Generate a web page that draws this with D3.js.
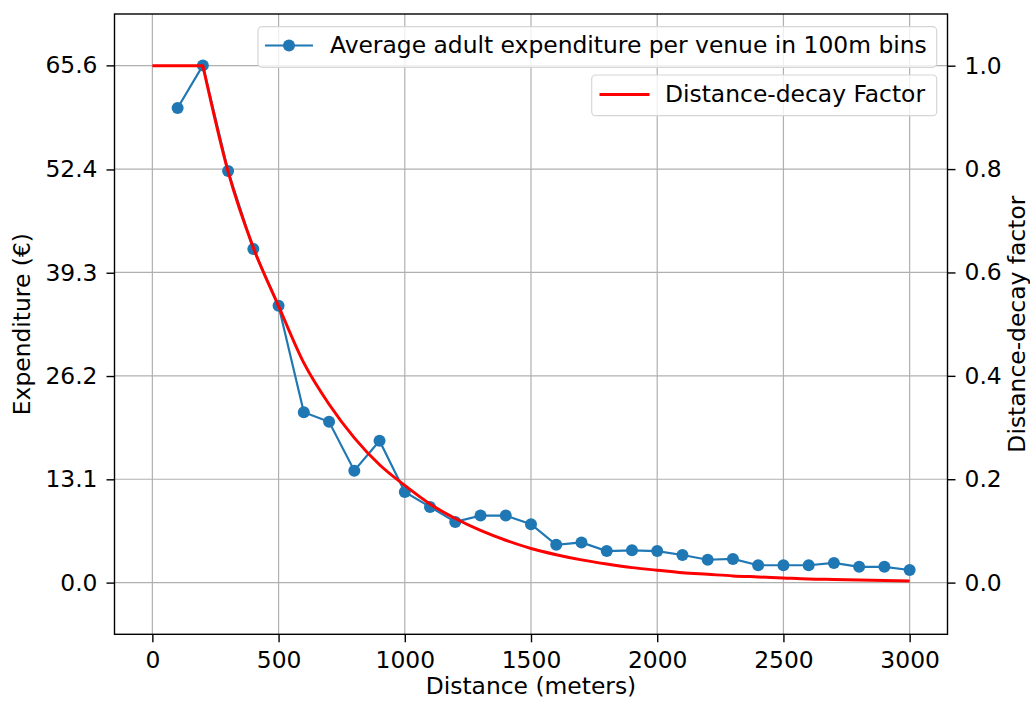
<!DOCTYPE html>
<html>
<head>
<meta charset="utf-8">
<script src="https://cdn.jsdelivr.net/npm/d3@7"></script>
<style>
  html, body { margin: 0; padding: 0; background: #fff; }
  svg { display: block; }
  text { font-family: "DejaVu Sans", sans-serif; fill: #000; }
</style>
</head>
<body>
<svg id="chart" width="1030" height="704"></svg>
<script>
// ---- data ----
const distances = [100,200,300,400,500,600,700,800,900,1000,1100,1200,1300,1400,1500,1600,1700,1800,1900,2000,2100,2200,2300,2400,2500,2600,2700,2800,2900,3000];
const expenditure = [60.2,65.6,52.2,42.3,35.1,21.6,20.4,14.2,18.0,11.5,9.6,7.7,8.5,8.5,7.4,4.8,5.1,4.0,4.1,4.0,3.5,2.9,3.0,2.2,2.2,2.2,2.5,2.0,2.0,1.6];
const decayDistances = [0,100,200,300,400,500,600,700,800,900,1000,1100,1200,1300,1400,1500,1600,1700,1800,1900,2000,2100,2200,2300,2400,2500,2600,2700,2800,2900,3000];
const decayFactor = [1,1,1,0.795,0.648,0.535,0.425,0.345,0.28,0.228,0.188,0.152,0.124,0.101,0.082,0.066,0.054,0.044,0.036,0.029,0.024,0.019,0.016,0.013,0.011,0.009,0.007,0.006,0.005,0.004,0.003];
const xTicks = [0,500,1000,1500,2000,2500,3000];
const leftTicks = [0.0,13.1,26.2,39.3,52.4,65.6];
const rightTicks = [0.0,0.2,0.4,0.6,0.8,1.0];
const expMax = 65.56;

// ---- layout ----
const L = 114.5, R = 947.5, T = 14, B = 634.3;
const svg = d3.select("#chart");
const FS = 23.4;

const x = d3.scaleLinear().domain([-150, 3150]).range([L, R]);
const yR = d3.scaleLinear().domain([-0.1, 1.1]).range([B, T]);
const yL = d3.scaleLinear().domain([-0.1 * expMax, 1.1 * expMax]).range([B, T]);

// grid
const grid = svg.append("g");
grid.selectAll("line.v").data(xTicks).join("line")
  .attr("x1", d => x(d)).attr("x2", d => x(d)).attr("y1", T).attr("y2", B)
  .attr("stroke", "#b0b0b0").attr("stroke-width", 1.2);
grid.selectAll("line.h").data(rightTicks).join("line")
  .attr("x1", L).attr("x2", R).attr("y1", d => yR(d)).attr("y2", d => yR(d))
  .attr("stroke", "#b0b0b0").attr("stroke-width", 1.2);

// blue series
const blueLine = d3.line().x((d, i) => x(distances[i])).y(d => yL(d));
svg.append("path").datum(expenditure)
  .attr("d", blueLine).attr("fill", "none")
  .attr("stroke", "#1f77b4").attr("stroke-width", 2.2);
svg.append("g").selectAll("circle").data(expenditure).join("circle")
  .attr("cx", (d, i) => x(distances[i])).attr("cy", d => yL(d)).attr("r", 6)
  .attr("fill", "#1f77b4");

// legend 1 (belongs to first axes)
function legendBox(x0, y0, w, h) {
  svg.append("rect").attr("x", x0).attr("y", y0).attr("width", w).attr("height", h)
    .attr("rx", 4).attr("ry", 4)
    .attr("fill", "#fff").attr("fill-opacity", 0.8)
    .attr("stroke", "#d5d5d5").attr("stroke-width", 1.2);
}
legendBox(258, 26.7, 678.7, 40.6);
svg.append("line").attr("x1", 265).attr("x2", 313).attr("y1", 45.5).attr("y2", 45.5)
  .attr("stroke", "#1f77b4").attr("stroke-width", 2.2);
svg.append("circle").attr("cx", 289).attr("cy", 45.5).attr("r", 6).attr("fill", "#1f77b4");
svg.append("text").attr("x", 330).attr("y", 52.5).attr("font-size", FS)
  .text("Average adult expenditure per venue in 100m bins");

// red series (second axes, drawn on top): flat part + decaying part
const pts = decayDistances.map((d, i) => [d, decayFactor[i]]);
const lastFlat = pts.findIndex((p, i) => i + 1 < pts.length && pts[i + 1][1] < p[1]);
const redLinear = d3.line().x(p => x(p[0])).y(p => yR(p[1]));
const redSmooth = d3.line().x(p => x(p[0])).y(p => yR(p[1])).curve(d3.curveMonotoneX);
const redG = svg.append("g").attr("fill", "none").attr("stroke", "#ff0000")
  .attr("stroke-width", 3).attr("stroke-linejoin", "round");
redG.append("path").attr("d", redLinear(pts.slice(0, lastFlat + 1)) + redSmooth(pts.slice(lastFlat)).replace(/^M[^A-Za-z]*/, m => "L" + m.slice(1)));

// legend 2
legendBox(591.7, 75, 345, 40.7);
svg.append("line").attr("x1", 599.5).attr("x2", 649.5).attr("y1", 94.5).attr("y2", 94.5)
  .attr("stroke", "#ff0000").attr("stroke-width", 3);
svg.append("text").attr("x", 665).attr("y", 102).attr("font-size", FS)
  .text("Distance-decay Factor");

// spines
svg.append("rect").attr("x", L).attr("y", T).attr("width", R - L).attr("height", B - T)
  .attr("fill", "none").attr("stroke", "#000").attr("stroke-width", 1.4);

// axes
const tickLen = 8;
const xAxis = d3.axisBottom(x).tickValues(xTicks).tickFormat(d3.format("d"))
  .tickSize(tickLen).tickPadding(6);
const gx = svg.append("g").attr("transform", `translate(0,${B})`).call(xAxis);
const yAxisL = d3.axisLeft(yL).tickValues(leftTicks).tickFormat(d3.format(".1f"))
  .tickSize(tickLen).tickPadding(9);
const gyl = svg.append("g").attr("transform", `translate(${L},0)`).call(yAxisL);
const yAxisR = d3.axisRight(yR).tickValues(rightTicks).tickFormat(d3.format(".1f"))
  .tickSize(tickLen).tickPadding(9);
const gyr = svg.append("g").attr("transform", `translate(${R},0)`).call(yAxisR);

[gx, gyl, gyr].forEach(g => {
  g.select(".domain").remove();
  g.selectAll(".tick line").attr("stroke", "#000").attr("stroke-width", 1.4);
  g.selectAll(".tick text").attr("font-size", FS).attr("font-family", "DejaVu Sans").attr("fill", "#000");
});
gx.selectAll(".tick text").attr("y", 668 - B).attr("dy", 0);

// axis labels
svg.append("text").attr("x", (L + R) / 2).attr("y", 693.5).attr("text-anchor", "middle")
  .attr("font-size", FS).text("Distance (meters)");
svg.append("text").attr("transform", `translate(30,${(T + B) / 2}) rotate(-90)`)
  .attr("text-anchor", "middle").attr("font-size", FS).text("Expenditure (€)");
svg.append("text").attr("transform", `translate(1025,${(T + B) / 2}) rotate(-90)`)
  .attr("text-anchor", "middle").attr("font-size", FS).text("Distance-decay factor");
</script>
</body>
</html>
